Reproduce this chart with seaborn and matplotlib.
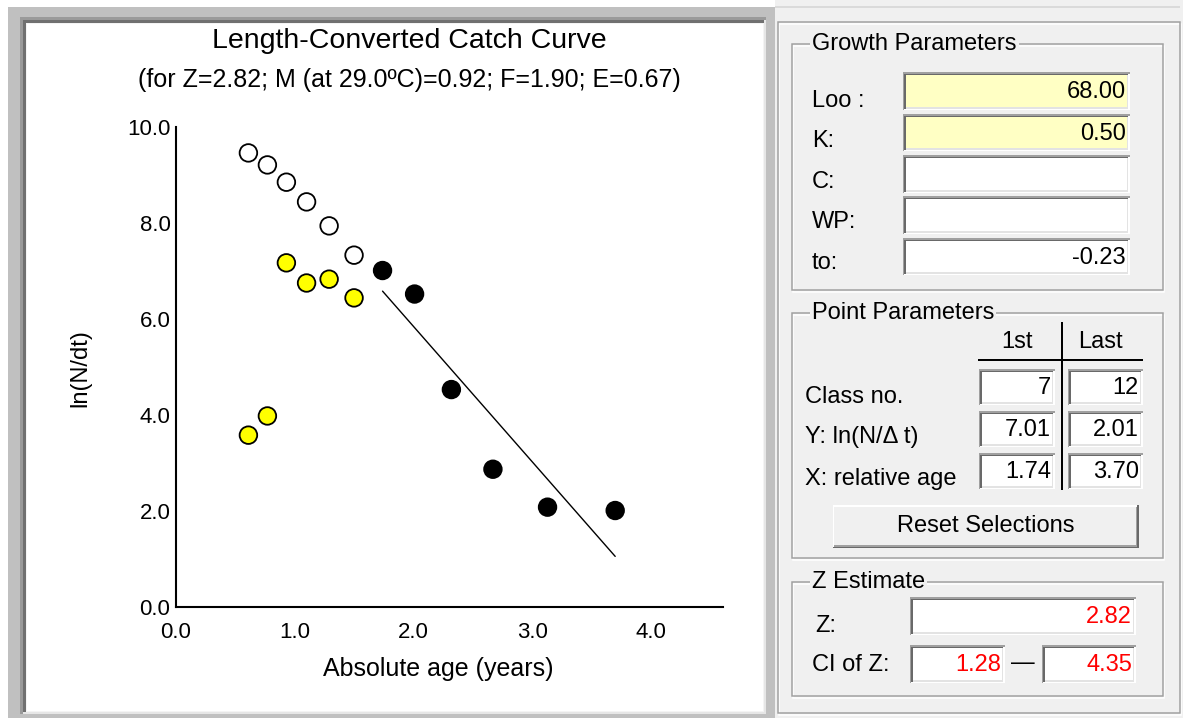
import numpy as np
import pandas as pd
import seaborn as sns
import matplotlib
matplotlib.use("Agg")
import matplotlib.pyplot as plt
from matplotlib.patches import Rectangle
from matplotlib.lines import Line2D
from matplotlib.transforms import Affine2D

# ---------------- data ----------------
age_excluded = [0.61, 0.77, 0.93, 1.10, 1.29, 1.50]
ln_excluded = [9.46, 9.21, 8.85, 8.44, 7.94, 7.33]
age_unused = [0.61, 0.77, 0.93, 1.10, 1.29, 1.50]
ln_unused = [3.58, 3.98, 7.17, 6.75, 6.83, 6.44]
age_selected = [1.74, 2.01, 2.32, 2.67, 3.13, 3.70]
ln_selected = [7.01, 6.52, 4.53, 2.87, 2.08, 2.01]

x_ticks = [0, 1, 2, 3, 4]
x_tick_labels = ["0.0", "1.0", "2.0", "3.0", "4.0"]
y_ticks = [0, 2, 4, 6, 8, 10]
y_tick_labels = ["0.0", "2.0", "4.0", "6.0", "8.0", "10.0"]

title = "Length-Converted Catch Curve"
subtitle = "(for Z=2.82; M (at 29.0ºC)=0.92; F=1.90; E=0.67)"

growth_labels = ["Loo :", "K:", "C:", "WP:", "to:"]
growth_values = ["68.00", "0.50", "", "", "-0.23"]
point_labels = ["Class no.", "Y: ln(N/Δ t)", "X: relative age"]
point_first = ["7", "7.01", "1.74"]
point_last = ["12", "2.01", "3.70"]
z_value = "2.82"
z_ci = ["1.28", "4.35"]

# ---------------- setup ----------------
W, H = 1183, 718
sns.set_theme(style="white")
plt.rcParams["font.family"] = ["Liberation Sans", "DejaVu Sans"]

fig = plt.figure(figsize=(W / 100, H / 100), dpi=100, facecolor="white")
pix = Affine2D().scale(1 / W, -1 / H).translate(0, 1) + fig.transFigure


def rect(x0, y0, x1, y1, color, z=-10):
    fig.add_artist(Rectangle((x0, y0), x1 - x0, y1 - y0, transform=pix,
                             facecolor=color, edgecolor="none", zorder=z,
                             antialiased=False))


def outline(x0, y0, x1, y1, color, lw=1, z=-5):
    fig.add_artist(Rectangle((x0, y0), x1 - x0, y1 - y0, transform=pix,
                             facecolor="none", edgecolor=color, lw=lw * 0.72,
                             zorder=z))


def line(xs, ys, color="black", lw=1, z=-4):
    fig.add_artist(Line2D(xs, ys, transform=pix, color=color, lw=lw * 0.72,
                          zorder=z, solid_capstyle="butt"))


def txt(x, y, s, ha="left", color="black", size=17, **kw):
    fig.text(x, y, s, transform=pix, ha=ha, va="center", color=color,
             fontsize=size, **kw)


def sunken(x0, y0, x1, y1, fill="white"):
    rect(x0, y0, x1, y1, "#a0a0a0", z=-9)
    rect(x0 + 1.5, y0 + 1.5, x1, y1, "#ffffff", z=-8.9)
    rect(x0 + 1.5, y0 + 1.5, x1 - 1.5, y1 - 1.5, "#696969", z=-8.8)
    rect(x0 + 3, y0 + 3, x1 - 1.5, y1 - 1.5, "#e3e3e3", z=-8.7)
    rect(x0 + 3, y0 + 3, x1 - 3, y1 - 3, fill, z=-8.6)


def raised(x0, y0, x1, y1, fill="#f0f0f0"):
    rect(x0, y0, x1, y1, "#696969", z=-9)
    rect(x0, y0, x1 - 1.5, y1 - 1.5, "#ffffff", z=-8.9)
    rect(x0 + 1.5, y0 + 1.5, x1 - 1.5, y1 - 1.5, "#a0a0a0", z=-8.8)
    rect(x0 + 1.5, y0 + 1.5, x1 - 3, y1 - 3, fill, z=-8.7)


def groupbox(x0, y0, x1, y1, label):
    outline(x0 + 1.5, y0 + 1.5, x1 + 1.5, y1 + 1.5, "#ffffff", lw=1.5)
    outline(x0, y0, x1, y1, "#a0a0a0", lw=1.5)
    txt(x0 + 20, y0, label, bbox=dict(facecolor="#f0f0f0", edgecolor="none", pad=1.5))


# ---------------- left frame ----------------
rect(8, 7, 775, 718, "#c0c0c0", z=-20)
rect(20, 17, 766, 714, "#9a9a9a", z=-19)
rect(23, 20, 766, 714, "#e6e6e6", z=-18)
rect(23, 20, 764, 712, "#707070", z=-17)
rect(26, 23, 764, 712, "#f4f4f4", z=-16)
rect(27, 24, 763, 711, "white", z=-15)

# ---------------- right panel ----------------
rect(775, 0, W, H, "#f0f0f0", z=-20)
line([775, 1180], [7, 7], color="#d4d4d4", lw=1.5)
outline(779.5, 23.5, 1181.5, 714.5, "#ffffff", lw=1.5)
outline(778, 22, 1180, 713, "#a0a0a0", lw=1.5)

# Growth parameters
groupbox(792, 44, 1163, 290, "Growth Parameters")
field_rows = [(72, 110), (114, 151), (155, 193), (196, 234), (238, 275)]
label_y = [101, 141, 182, 222, 263]
for i, ((ya, yb), lab, val) in enumerate(zip(field_rows, growth_labels, growth_values)):
    sunken(903, ya, 1130, yb, fill="#ffffc4" if i < 2 else "white")
    txt(812, label_y[i], lab)
    if val:
        txt(1126, (ya + yb) / 2 + 1, val, ha="right")

# Point parameters
groupbox(792, 313, 1163, 558, "Point Parameters")
txt(1017, 342, "1st", ha="center")
txt(1100, 342, "Last", ha="center")
line([978, 1143], [360, 360], lw=2)
line([1062, 1062], [322, 490], lw=2)
rows = [(369, 405), (411, 447), (453, 489)]
plabel_y = [397, 437, 479]
for (ya, yb), lab, v1, v2, ly in zip(rows, point_labels, point_first, point_last, plabel_y):
    sunken(979, ya, 1055, yb)
    sunken(1068, ya, 1143, yb)
    txt(1051, (ya + yb) / 2 + 1, v1, ha="right")
    txt(1139, (ya + yb) / 2 + 1, v2, ha="right")
    txt(805, ly, lab)
raised(833, 505, 1139, 548)
txt(986, 526, "Reset Selections", ha="center")

# Z estimate
groupbox(792, 582, 1163, 696, "Z Estimate")
sunken(910, 597, 1136, 635)
txt(1132, 617, z_value, ha="right", color="#ff0000")
sunken(910, 645, 1005, 683)
sunken(1042, 645, 1136, 683)
txt(1001, 665, z_ci[0], ha="right", color="#ff0000")
txt(1132, 665, z_ci[1], ha="right", color="#ff0000")
txt(1023, 663, "—", ha="center")
txt(815, 626, "Z:")
txt(812, 665, "CI of Z:")

# ---------------- chart ----------------
df = pd.DataFrame({
    "age": age_excluded + age_unused + age_selected,
    "lnN": ln_excluded + ln_unused + ln_selected,
    "group": ["excluded"] * len(age_excluded) + ["unused"] * len(age_unused)
             + ["selected"] * len(age_selected),
})

L, R, T, B = 176, 723, 127, 607
ax = fig.add_axes([L / W, 1 - B / H, (R - L) / W, (B - T) / H])
ax.patch.set_visible(False)

sns.regplot(data=df[df["group"] == "selected"], x="age", y="lnN",
            scatter=False, ci=None, truncate=True, color="black",
            line_kws={"lw": 1.0}, ax=ax)
sns.scatterplot(data=df, x="age", y="lnN", hue="group",
                palette={"excluded": "white", "unused": "#ffff00", "selected": "black"},
                edgecolor="black", linewidth=1.3, s=160, legend=False, ax=ax,
                zorder=3, clip_on=False)

ax.set_xlim(0, (R - L) / 118.7)
ax.set_ylim(0, 10)
ax.set_xticks(x_ticks)
ax.set_xticklabels(x_tick_labels)
ax.set_yticks(y_ticks)
ax.set_yticklabels(y_tick_labels)
sns.despine(ax=ax)
for s in ("left", "bottom"):
    ax.spines[s].set_linewidth(1.5)
    ax.spines[s].set_color("black")
ax.tick_params(axis="both", direction="in", length=7, width=1.5,
               colors="black", labelsize=16)
ax.tick_params(axis="x", pad=11)
ax.tick_params(axis="y", pad=4)

ax.set_xlabel("Absolute age (years)", fontsize=18, color="black", va="center")
ax.xaxis.set_label_coords((438 - L) / (R - L), (B - 669) / (B - T))
ax.set_ylabel("ln(N/dt)", fontsize=17, color="black", va="center")
ax.yaxis.set_label_coords((80 - L) / (R - L), (B - 368) / (B - T))

ax.set_title(title, fontsize=20.5, color="black", x=(409 - L) / (R - L),
             y=(B - 49) / (B - T), va="center")
ax.text((409 - L) / (R - L), (B - 80) / (B - T), subtitle, fontsize=18,
        color="black", ha="center", va="center", transform=ax.transAxes)

fig.savefig("out.png", dpi=100, facecolor="white")
